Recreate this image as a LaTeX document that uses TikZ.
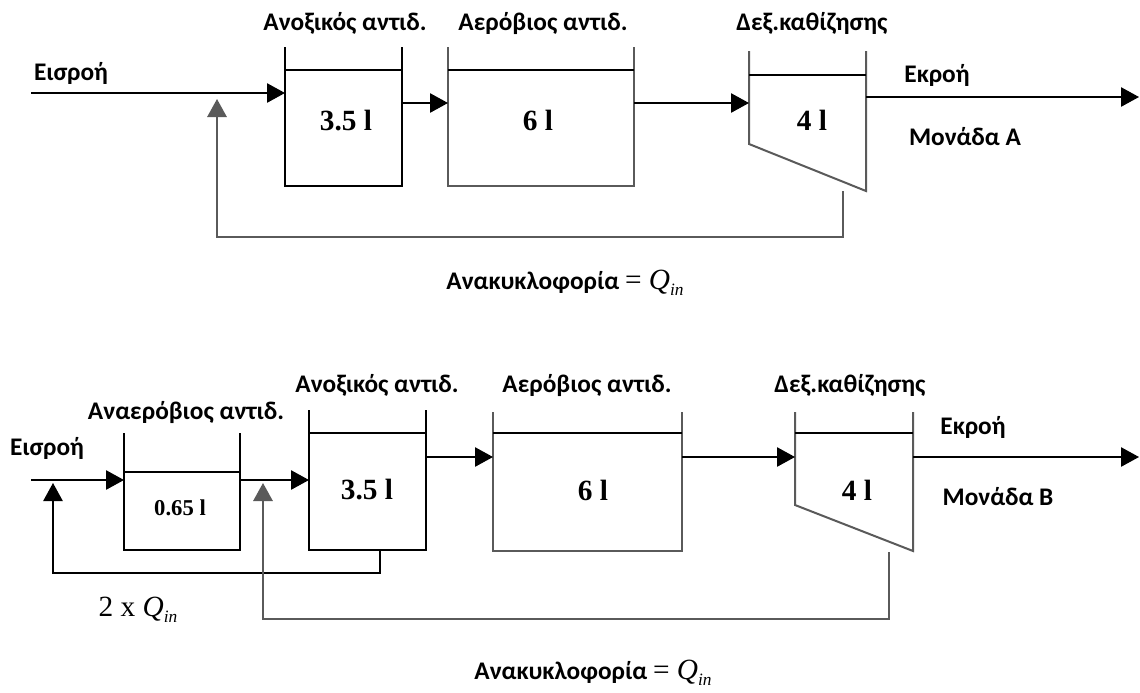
\documentclass[tikz,border=0pt]{standalone}
\usepackage{fontspec}
\newfontfamily\lblfont{Carlito}
\newfontfamily\numfont{Liberation Serif}
\usetikzlibrary{arrows.meta}
\definecolor{wallgray}{HTML}{5A5A5A}
\newcommand{\qin}{{\numfont\itshape Q}\raisebox{-0.45ex}{\numfont\itshape\fontsize{13}{14}\selectfont in}}
\tikzset{
  lbl/.style={font=\lblfont\bfseries\fontsize{19}{22}\selectfont, inner sep=0pt},
  vol/.style={font=\numfont\bfseries\fontsize{22}{24}\selectfont, inner sep=0pt},
  volsmall/.style={font=\numfont\bfseries\fontsize{17}{20}\selectfont, inner sep=0pt},
  ser/.style={font=\numfont\fontsize{22}{24}\selectfont, inner sep=0pt},
  wall/.style={line width=1.2pt, black},
  gwall/.style={line width=1.5pt, wallgray},
  flow/.style={line width=1.2pt, black, -{Triangle[length=13.5pt,width=14.5pt]}},
  gflow/.style={line width=1.5pt, wallgray, -{Triangle[length=13.5pt,width=14.5pt]}},
  bflow/.style={line width=1.2pt, black, -{Triangle[length=13.5pt,width=14.5pt]}},
}
\begin{document}
\begin{tikzpicture}[x=0.75pt,y=-0.75pt]
\useasboundingbox (0,0) rectangle (1140,693);

% ================= TOP (Unit A) =================
% tanks
\draw[wall]  (285,47) -- (285,186) -- (402,186) -- (402,47);
\draw[wall]  (285,70) -- (402,70);
\draw[gwall] (448,47) -- (448,186) -- (634,186) -- (634,47);
\draw[wall]  (448,70) -- (634,70);
\draw[gwall] (749,51) -- (749,144) -- (866,191) -- (866,51);
\draw[wall]  (749,75) -- (866,75);

% ports
\coordinate (aIn)   at (31,93);
\coordinate (a1in)  at (285,93);
\coordinate (a1out) at (402,103);
\coordinate (a2in)  at (448,103);
\coordinate (a2out) at (634,103);
\coordinate (a3in)  at (749,103);
\coordinate (a3out) at (866,97);
\coordinate (aOut)  at (1139,97);
\coordinate (aR1)   at (843,191);
\coordinate (aR2)   at (843,237);
\coordinate (aR3)   at (217,237);
\coordinate (aRtip) at (217,99);

\draw[flow] (aIn) -- (a1in);
\draw[flow] (a1out) -- (a2in);
\draw[flow] (a2out) -- (a3in);
\draw[flow] (a3out) -- (aOut);
\draw[gflow] (aR1) -- (aR2) -- (aR3) -- (aRtip);

% labels
\node[lbl] (aInL)  at (71,73)   {Εισροή};
\node[lbl] (aT1L)  at (345,23)  {Ανοξικός αντιδ.};
\node[lbl] (aT2L)  at (543,23)  {Αερόβιος αντιδ.};
\node[lbl] (aT3L)  at (812,23)  {Δεξ.καθίζησης};
\node[lbl] (aOutL) at (937,75)  {Εκροή};
\node[lbl] (aUnit) at (965,137) {Μονάδα Α};
\node[vol] (aV1) at (346,121) {3.5 l};
\node[vol] (aV2) at (538,120) {6 l};
\node[vol] (aV3) at (812,120) {4 l};
\node[lbl] (aRec) at (565,283) {Ανακυκλοφορία {\numfont\mdseries\fontsize{22}{24}\selectfont = \qin}};

% ================= BOTTOM (Unit B) =================
\draw[wall]  (124,433) -- (124,550) -- (240,550) -- (240,433);
\draw[wall]  (124,472) -- (240,472);
\draw[wall]  (309,410) -- (309,550) -- (426,550) -- (426,410);
\draw[wall]  (309,433) -- (426,433);
\draw[gwall] (493,412) -- (493,551) -- (682,551) -- (682,412);
\draw[wall]  (493,433) -- (682,433);
\draw[gwall] (795,412) -- (795,505) -- (913,551) -- (913,412);
\draw[wall]  (795,433) -- (913,433);

\coordinate (bIn)   at (31,480);
\coordinate (b0in)  at (124,480);
\coordinate (b0out) at (240,480);
\coordinate (b1in)  at (309,480);
\coordinate (b1out) at (426,457);
\coordinate (b2in)  at (493,457);
\coordinate (b2out) at (682,457);
\coordinate (b3in)  at (795,457);
\coordinate (b3out) at (913,457);
\coordinate (bOut)  at (1139,457);
\coordinate (bI1)   at (380,550);
\coordinate (bI2)   at (380,573);
\coordinate (bI3)   at (53,573);
\coordinate (bItip) at (53,483);
\coordinate (bR1)   at (889,552);
\coordinate (bR2)   at (889,619);
\coordinate (bR3)   at (263,619);
\coordinate (bRtip) at (263,483);

\draw[flow] (bIn) -- (b0in);
\draw[flow] (b0out) -- (b1in);
\draw[flow] (b1out) -- (b2in);
\draw[flow] (b2out) -- (b3in);
\draw[flow] (b3out) -- (bOut);
\draw[bflow] (bI1) -- (bI2) -- (bI3) -- (bItip);
\draw[gflow] (bR1) -- (bR2) -- (bR3) -- (bRtip);

\node[lbl] (bInL)  at (47,448)  {Εισροή};
\node[lbl] (bT0L)  at (186,412) {Αναερόβιος αντιδ.};
\node[lbl] (bT1L)  at (377,385) {Ανοξικός αντιδ.};
\node[lbl] (bT2L)  at (587,385) {Αερόβιος αντιδ.};
\node[lbl] (bT3L)  at (850,385) {Δεξ.καθίζησης};
\node[lbl] (bOutL) at (973,427) {Εκροή};
\node[lbl] (bUnit) at (998,497) {Μονάδα Β};
\node[volsmall] (bV0) at (180,508) {0.65 l};
\node[vol] (bV1) at (367,490) {3.5 l};
\node[vol] (bV2) at (593,490) {6 l};
\node[vol] (bV3) at (857,490) {4 l};
\node[ser] (bTwo) at (138,610) {2 x \qin};
\node[lbl] (bRec) at (593,673) {Ανακυκλοφορία {\numfont\mdseries\fontsize{22}{24}\selectfont = \qin}};
\end{tikzpicture}
\end{document}
